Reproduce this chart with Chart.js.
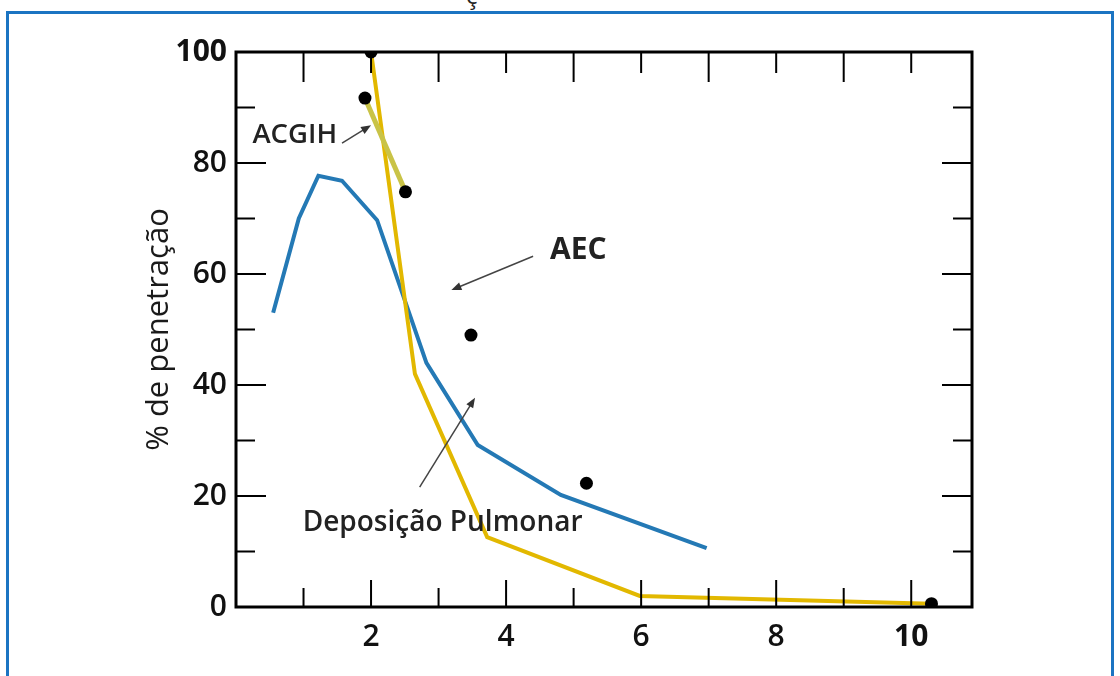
<!DOCTYPE html>
<html>
<head>
<meta charset="utf-8">
<script src="https://cdn.jsdelivr.net/npm/chart.js@4.4.1/dist/chart.umd.min.js"></script>
<style>
  html, body { margin: 0; padding: 0; background: #fff; overflow: hidden; }
  #wrap { position: relative; width: 1120px; height: 676px; }
  #moldura { position: absolute; left: 6px; top: 11px; width: 1102px; height: 700px;
             border: 3px solid #1b74c2; border-bottom: none; }
  #corte { position: absolute; left: 466px; top: -22px; font: 24px 'Open Sans', sans-serif; color: #222; }
  canvas { position: absolute; left: 0; top: 0; }
</style>
</head>
<body>
<div id="wrap">
  <div id="moldura"></div>
  <div id="corte">ç</div>
  <canvas id="grafico" width="1120" height="676"></canvas>
</div>
<script>
// Curva de deposição pulmonar (azul)
const pulmonarX = [0.55, 0.93, 1.22, 1.57, 2.09, 2.82, 3.58, 4.81, 6.97];
const pulmonarY = [53, 70, 77.7, 76.8, 69.7, 44, 29.2, 20.2, 10.6];

// Curva AEC (amarela)
const aecX = [2.0, 2.65, 3.72, 5.98, 10.3];
const aecY = [100, 42, 12.6, 2.0, 0.6];

// Segmento ACGIH
const acgihX = [1.91, 2.51];
const acgihY = [91.7, 74.8];

// Pontos pretos soltos
const pontosX = [2.0, 3.48, 5.19, 10.3];
const pontosY = [100, 49, 22.3, 0.6];

// Eixos
const xTicks = [2, 4, 6, 8, 10];
const yTicks = [0, 20, 40, 60, 80, 100];

function pares(xs, ys) {
    return xs.map((x, i) => ({ x: x, y: ys[i] }));
}

// Anotações (texto + seta) em coordenadas de dados
const anotacoes = [
    { texto: 'ACGIH', x: 0.87, y: 85, tam: 27.5, peso: 600, de: [1.57, 83.6], para: [2.0, 86.8] },
    { texto: 'AEC', x: 5.07, y: 64.3, tam: 30, peso: 700, de: [4.4, 63.2], para: [3.19, 57.1] },
    { texto: 'Deposição Pulmonar', x: 3.06, y: 15.1, tam: 28, peso: 600, de: [2.72, 21.6], para: [3.54, 37.7] }
];

const molduraPlugin = {
    id: 'molduraTicks',
    afterDatasetsDraw(chart) {
        const ctx = chart.ctx;
        const xs = chart.scales.x, ys = chart.scales.y;
        const a = chart.chartArea;
        ctx.save();
        ctx.strokeStyle = '#000';
        // ticks internos
        ctx.lineWidth = 2;
        for (let v = 1; v <= 10; v++) {
            const px = xs.getPixelForValue(v);
            const baixo = (v % 2 === 0) ? 27 : 19;
            const cima = (v % 2 === 0) ? 21 : 30;
            ctx.beginPath();
            ctx.moveTo(px, a.bottom); ctx.lineTo(px, a.bottom - baixo);
            ctx.moveTo(px, a.top); ctx.lineTo(px, a.top + cima);
            ctx.stroke();
        }
        for (let v = 10; v < 100; v += 10) {
            const py = ys.getPixelForValue(v);
            const len = (v % 20 === 0) ? 30 : 19;
            ctx.beginPath();
            ctx.moveTo(a.left, py); ctx.lineTo(a.left + len, py);
            ctx.moveTo(a.right, py); ctx.lineTo(a.right - len, py);
            ctx.stroke();
        }
        // caixa
        ctx.lineWidth = 3;
        ctx.strokeRect(a.left, a.top, a.right - a.left, a.bottom - a.top);

        // anotações
        ctx.fillStyle = '#222';
        ctx.textAlign = 'center';
        ctx.textBaseline = 'middle';
        anotacoes.forEach(n => {
            ctx.font = n.peso + ' ' + n.tam + "px 'Open Sans'";
            ctx.fillText(n.texto, xs.getPixelForValue(n.x), ys.getPixelForValue(n.y));
            const x0 = xs.getPixelForValue(n.de[0]), y0 = ys.getPixelForValue(n.de[1]);
            const x1 = xs.getPixelForValue(n.para[0]), y1 = ys.getPixelForValue(n.para[1]);
            const ang = Math.atan2(y1 - y0, x1 - x0);
            ctx.strokeStyle = '#444';
            ctx.lineWidth = 1.5;
            ctx.beginPath();
            ctx.moveTo(x0, y0);
            ctx.lineTo(x1 - 6 * Math.cos(ang), y1 - 6 * Math.sin(ang));
            ctx.stroke();
            ctx.fillStyle = '#333';
            ctx.beginPath();
            ctx.moveTo(x1, y1);
            ctx.lineTo(x1 - 10 * Math.cos(ang) + 4 * Math.sin(ang), y1 - 10 * Math.sin(ang) - 4 * Math.cos(ang));
            ctx.lineTo(x1 - 10 * Math.cos(ang) - 4 * Math.sin(ang), y1 - 10 * Math.sin(ang) + 4 * Math.cos(ang));
            ctx.closePath();
            ctx.fill();
            ctx.fillStyle = '#222';
        });
        ctx.restore();
    }
};

new Chart(document.getElementById('grafico'), {
    type: 'scatter',
    data: {
        datasets: [
            {
                label: 'Deposição Pulmonar',
                data: pares(pulmonarX, pulmonarY),
                showLine: true,
                borderColor: '#2479b5',
                borderWidth: 4,
                pointRadius: 0,
                order: 3
            },
            {
                label: 'AEC',
                data: pares(aecX, aecY),
                showLine: true,
                borderColor: '#e2b800',
                borderWidth: 4,
                pointRadius: 0,
                order: 2
            },
            {
                label: 'ACGIH',
                data: pares(acgihX, acgihY),
                showLine: true,
                borderColor: '#c9c347',
                borderWidth: 5,
                pointRadius: 6.5,
                pointBackgroundColor: '#000',
                pointBorderWidth: 0,
                order: 1
            },
            {
                label: 'pontos',
                data: pares(pontosX, pontosY),
                showLine: false,
                pointRadius: 6.5,
                pointBackgroundColor: '#000',
                pointBorderWidth: 0,
                order: 0
            }
        ]
    },
    options: {
        responsive: false,
        animation: false,
        events: [],
        layout: { padding: { top: 52, right: 148, left: 0, bottom: 0 } },
        plugins: { legend: { display: false }, tooltip: { enabled: false } },
        scales: {
            x: {
                type: 'linear',
                min: 0,
                max: 10.9,
                afterFit(scale) { scale.height = 69; },
                afterBuildTicks(scale) { scale.ticks = xTicks.map(v => ({ value: v })); },
                grid: { display: false, drawTicks: false },
                border: { display: false },
                ticks: {
                    padding: 12,
                    color: '#111',
                    font: ctx => ({ family: 'Open Sans', size: 30, weight: ctx.tick && ctx.tick.value === 10 ? 700 : 600 })
                }
            },
            y: {
                type: 'linear',
                min: 0,
                max: 100,
                afterFit(scale) { scale.width = 236; },
                afterBuildTicks(scale) { scale.ticks = yTicks.map(v => ({ value: v })); },
                grid: { display: false, drawTicks: false },
                border: { display: false },
                ticks: {
                    padding: 9,
                    color: '#111',
                    font: ctx => ({ family: 'Open Sans', size: 30, weight: ctx.tick && ctx.tick.value === 100 ? 700 : 600 })
                },
                title: {
                    display: true,
                    text: '% de penetração',
                    color: '#1a1a1a',
                    font: { family: 'Open Sans', size: 31, weight: 500 },
                    padding: { top: 141, bottom: 0 }
                }
            }
        }
    },
    plugins: [molduraPlugin]
});
</script>
</body>
</html>
